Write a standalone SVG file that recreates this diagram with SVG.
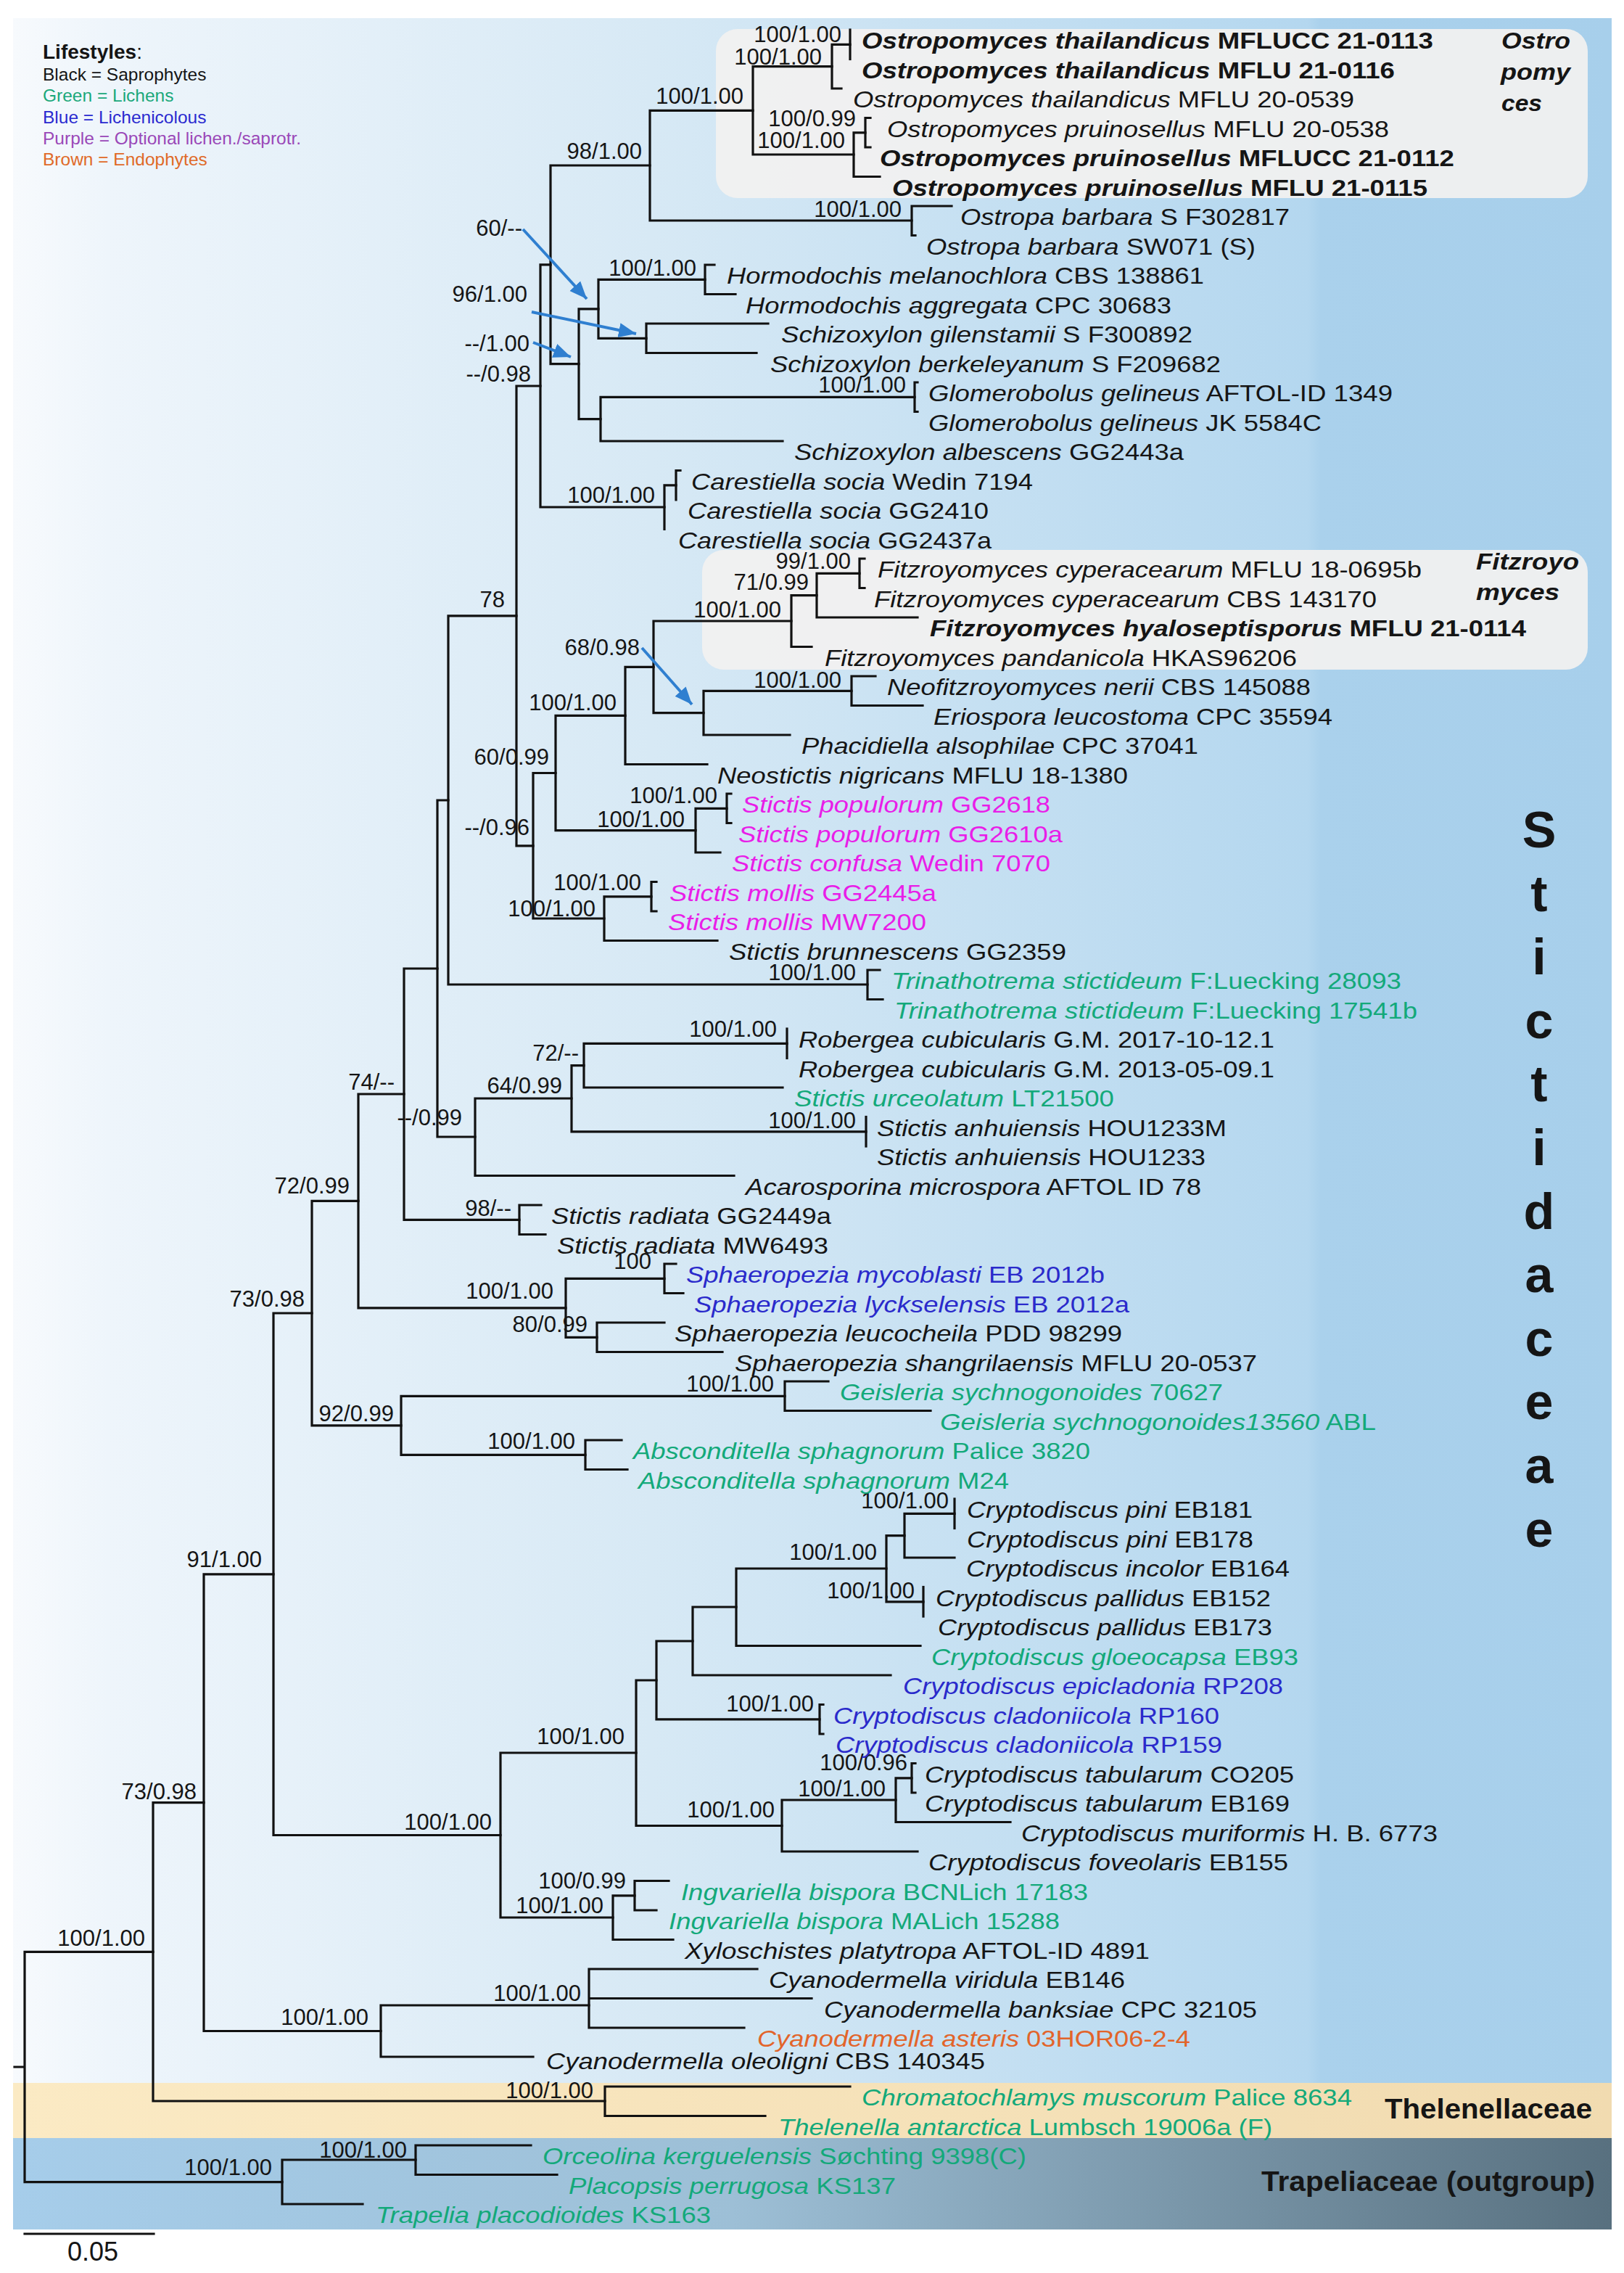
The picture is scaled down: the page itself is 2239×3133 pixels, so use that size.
<svg xmlns="http://www.w3.org/2000/svg" width="2239" height="3133" viewBox="0 0 2239 3133">
<defs>
<linearGradient id="gMain" x1="0" y1="0" x2="1" y2="0">
<stop offset="0" stop-color="#f7fafd"/><stop offset="0.06" stop-color="#eef5fb"/><stop offset="0.4" stop-color="#d7e9f5"/><stop offset="0.81" stop-color="#b4d7ef"/><stop offset="0.818" stop-color="#aad1ec"/><stop offset="1" stop-color="#a7cfeb"/>
</linearGradient>
<linearGradient id="gThel" x1="0" y1="0" x2="1" y2="0">
<stop offset="0" stop-color="#fbeac4"/><stop offset="1" stop-color="#f1dbb0"/>
</linearGradient>
<linearGradient id="gTrap" x1="0" y1="0" x2="1" y2="0">
<stop offset="0" stop-color="#a6cdea"/><stop offset="0.45" stop-color="#9dbfd6"/><stop offset="1" stop-color="#58707f"/>
</linearGradient>
<marker id="ah" markerUnits="userSpaceOnUse" markerWidth="26" markerHeight="22" refX="24" refY="11" orient="auto">
<path d="M0,1 L24,11 L0,21 Z" fill="#2f7fd0"/>
</marker>
<style>
text{font-family:"Liberation Sans",Arial,Helvetica,sans-serif;fill:#151515}
.sp{font-size:32px}
.bs{font-size:31px;text-anchor:end}
.i{font-style:italic}
.b{font-weight:bold}
.g{fill:#13a97a}
.bl{fill:#2a2acb}
.m{fill:#e81ee8}
.o{fill:#e2642a}
.br{stroke:#111;stroke-width:3.2;fill:none;stroke-linecap:square}
.ar{stroke:#2f7fd0;stroke-width:4;fill:none;marker-end:url(#ah)}
.box{fill:#f2f1f0;fill-opacity:0.93}
.big{font-size:70px;font-weight:bold;text-anchor:middle}
.lg{font-size:24.5px}
</style>
</defs>
<rect width="2239" height="3133" fill="#ffffff"/>
<g id="background">
<rect x="18" y="25" width="2204" height="2846" fill="url(#gMain)"/>
<rect x="18" y="2871" width="2204" height="76" fill="url(#gThel)"/>
<rect x="18" y="2947" width="2204" height="126" fill="url(#gTrap)"/>
<rect id="box-ostropomyces" class="box" x="987" y="40" width="1202" height="233" rx="30"/>
<rect id="box-fitzroyomyces" class="box" x="968" y="758" width="1221" height="165" rx="30"/>
</g>
<g id="legend">
<text x="59" y="81" style="font-size:28px"><tspan class="b">Lifestyles</tspan>:</text>
<text class="lg" x="59" y="111">Black = Saprophytes</text>
<text class="lg" x="59" y="140" style="fill:#1aa87a">Green = Lichens</text>
<text class="lg" x="59" y="170" style="fill:#2a2ad0">Blue =  Lichenicolous</text>
<text class="lg" x="59" y="199" style="fill:#9a48b8">Purple = Optional lichen./saprotr.</text>
<text class="lg" x="59" y="228" style="fill:#e06a28">Brown = Endophytes</text>
</g>
<g id="connectors">
<path class="br" d="M20,2849H34 M34,2690.3V3007.6 M34,2690.3H211 M34,3007.6H389"/>
<path class="br" d="M389,2977V3038 M389,2977H573 M389,3038H500"/>
<path class="br" d="M573,2957V2997.5 M573,2957H732 M573,2997.5H768"/>
<path class="br" d="M211,2484.6V2896 M211,2484.6H281 M211,2896H834"/>
<path class="br" d="M834,2876V2916.5 M834,2876H1172 M834,2916.5H1055"/>
<path class="br" d="M281,2169.8V2799.5 M281,2169.8H377 M281,2799.5H525"/>
<path class="br" d="M525,2764V2835 M525,2764H812 M525,2835H735"/>
<path class="br" d="M812,2714V2795 M812,2714H1044 M812,2754.5H1119 M812,2795H1026"/>
<path class="br" d="M377,1810V2529.5 M377,1810H430 M377,2529.5H690"/>
<path class="br" d="M690,2416V2643 M690,2416H877 M690,2643H845"/>
<path class="br" d="M845,2612.8V2673.5 M845,2612.8H875 M845,2673.5H928"/>
<path class="br" d="M875,2592.5V2633 M875,2592.5H922 M875,2633H905"/>
<path class="br" d="M877,2316V2516.5 M877,2316H905 M877,2516.5H1078"/>
<path class="br" d="M1078,2481V2552 M1078,2481H1235 M1078,2552H1265"/>
<path class="br" d="M1235,2450.8V2511.5 M1235,2450.8H1257 M1235,2511.5H1393"/>
<path class="br" d="M1257,2430.5V2471 M1257,2430.5H1262 M1257,2471H1262"/>
<path class="br" d="M905,2262V2369.8 M905,2262H955 M905,2369.8H1130"/>
<path class="br" d="M1130,2349.5V2390 M1130,2349.5H1135 M1130,2390H1135"/>
<path class="br" d="M955,2215V2309 M955,2215H1015 M955,2309H1228"/>
<path class="br" d="M1015,2162V2268.5 M1015,2162H1222 M1015,2268.5H1269"/>
<path class="br" d="M1222,2116.6V2207.8 M1222,2116.6H1247 M1222,2207.8H1273"/>
<path class="br" d="M1247,2086.3V2147 M1247,2086.3H1316 M1247,2147H1316"/>
<path class="br" d="M1316,2066V2106.5"/>
<path class="br" d="M1273,2187.5V2228"/>
<path class="br" d="M430,1655.4V1964.8 M430,1655.4H494 M430,1964.8H553"/>
<path class="br" d="M553,1924.3V2005.3 M553,1924.3H1082 M553,2005.3H807"/>
<path class="br" d="M1082,1904V1944.5 M1082,1904H1142 M1082,1944.5H1283"/>
<path class="br" d="M807,1985V2025.5 M807,1985H857 M807,2025.5H865"/>
<path class="br" d="M494,1508V1802.8 M494,1508H557 M494,1802.8H780"/>
<path class="br" d="M780,1762.3V1843.3 M780,1762.3H916 M780,1843.3H823"/>
<path class="br" d="M916,1742V1782.5 M916,1742H932 M916,1782.5H942"/>
<path class="br" d="M823,1823V1863.5 M823,1823H916 M823,1863.5H996"/>
<path class="br" d="M557,1335V1681.3 M557,1335H603 M557,1681.3H716"/>
<path class="br" d="M716,1661V1701.5 M716,1661H746 M716,1701.5H752"/>
<path class="br" d="M603,1103V1567 M603,1103H618 M603,1567H655"/>
<path class="br" d="M655,1514V1620.5 M655,1514H788 M655,1620.5H1012"/>
<path class="br" d="M788,1468.6V1559.8 M788,1468.6H805 M788,1559.8H1194"/>
<path class="br" d="M805,1438.3V1499 M805,1438.3H1085 M805,1499H1079"/>
<path class="br" d="M1085,1418V1458.5"/>
<path class="br" d="M1194,1539.5V1580"/>
<path class="br" d="M618,848.9V1357 M618,848.9H712 M618,1357H1196"/>
<path class="br" d="M1196,1337V1377.5 M1196,1337H1213 M1196,1377.5H1217"/>
<path class="br" d="M712,532V1165.8 M712,532H745 M712,1165.8H735"/>
<path class="br" d="M735,1065.5V1266 M735,1065.5H766 M735,1266H833"/>
<path class="br" d="M833,1235.8V1296.5 M833,1235.8H898 M833,1296.5H989"/>
<path class="br" d="M898,1215.5V1256 M898,1215.5H905 M898,1256H905"/>
<path class="br" d="M766,986.4V1144.6 M766,986.4H862 M766,1144.6H959"/>
<path class="br" d="M959,1114.3V1175 M959,1114.3H1002 M959,1175H993"/>
<path class="br" d="M1002,1094V1134.5 M1002,1094H1008 M1002,1134.5H1008"/>
<path class="br" d="M862,919.3V1053.5 M862,919.3H901 M862,1053.5H975"/>
<path class="br" d="M901,856V982.6 M901,856H1091 M901,982.6H970"/>
<path class="br" d="M1091,820.6V891.5 M1091,820.6H1126 M1091,891.5H1119"/>
<path class="br" d="M1126,790.3V851 M1126,790.3H1185 M1126,851H1265"/>
<path class="br" d="M1185,770V810.5 M1185,770H1192 M1185,810.5H1192"/>
<path class="br" d="M970,952.3V1013 M970,952.3H1174 M970,1013H1089"/>
<path class="br" d="M1174,932V972.5 M1174,932H1207 M1174,972.5H1272"/>
<path class="br" d="M745,364.8V699 M745,364.8H759 M745,699H916"/>
<path class="br" d="M916,668.8V729.5 M916,668.8H932"/>
<path class="br" d="M932,648.5V689 M932,648.5H938"/>
<path class="br" d="M759,228V501.7 M759,228H896 M759,501.7H798"/>
<path class="br" d="M896,152.3V304 M896,152.3H1038 M896,304H1257"/>
<path class="br" d="M1257,284V324.5 M1257,284H1312 M1257,324.5H1262"/>
<path class="br" d="M1038,91.6V213 M1038,91.6H1147 M1038,213H1177"/>
<path class="br" d="M1147,61.3V122 M1147,61.3H1172 M1147,122H1160"/>
<path class="br" d="M1172,41V81.5"/>
<path class="br" d="M1177,182.8V243.5 M1177,182.8H1193 M1177,243.5H1213"/>
<path class="br" d="M1193,162.5V203 M1193,162.5H1200 M1193,203H1200"/>
<path class="br" d="M798,425.8V577.6 M798,425.8H825 M798,577.6H828"/>
<path class="br" d="M825,385.3V466.3 M825,385.3H972 M825,466.3H891"/>
<path class="br" d="M972,365V405.5 M972,365H985 M972,405.5H1014"/>
<path class="br" d="M891,446V486.5 M891,446H1059 M891,486.5H1043"/>
<path class="br" d="M828,547.3V608 M828,547.3H1261 M828,608H1079"/>
<path class="br" d="M1261,527V567.5 M1261,527H1265 M1261,567.5H1265"/>
<path class="ar" d="M721,316L809,412"/>
<path class="ar" d="M733,430L877,460"/>
<path class="ar" d="M735,472L787,492"/>
<path class="ar" d="M885,893L954,971"/>
<path class="br" d="M34,3079H212"/>
</g>
<g id="supports" class="bs" text-anchor="end">
<text text-anchor="end" x="1025" y="143">100/1.00</text>
<text text-anchor="end" x="1133" y="89">100/1.00</text>
<text text-anchor="end" x="1160" y="58">100/1.00</text>
<text text-anchor="end" x="1165" y="204">100/1.00</text>
<text text-anchor="end" x="1180" y="174">100/0.99</text>
<text text-anchor="end" x="885" y="219">98/1.00</text>
<text text-anchor="end" x="1243" y="299">100/1.00</text>
<text text-anchor="end" x="960" y="380">100/1.00</text>
<text text-anchor="end" x="1249" y="541">100/1.00</text>
<text text-anchor="end" x="903" y="693">100/1.00</text>
<text text-anchor="end" x="732" y="526">--/0.98</text>
<text text-anchor="end" x="720" y="325">60/--</text>
<text text-anchor="end" x="727" y="416">96/1.00</text>
<text text-anchor="end" x="730" y="484">--/1.00</text>
<text text-anchor="end" x="696" y="837">78</text>
<text text-anchor="end" x="882" y="903">68/0.98</text>
<text text-anchor="end" x="850" y="979">100/1.00</text>
<text text-anchor="end" x="757" y="1054">60/0.99</text>
<text text-anchor="end" x="1077" y="851">100/1.00</text>
<text text-anchor="end" x="1115" y="813">71/0.99</text>
<text text-anchor="end" x="1173" y="784">99/1.00</text>
<text text-anchor="end" x="1160" y="948">100/1.00</text>
<text text-anchor="end" x="730" y="1151">--/0.96</text>
<text text-anchor="end" x="944" y="1140">100/1.00</text>
<text text-anchor="end" x="989" y="1107">100/1.00</text>
<text text-anchor="end" x="884" y="1227">100/1.00</text>
<text text-anchor="end" x="821" y="1263">100/1.00</text>
<text text-anchor="end" x="1180" y="1351">100/1.00</text>
<text text-anchor="end" x="798" y="1462">72/--</text>
<text text-anchor="end" x="1071" y="1429">100/1.00</text>
<text text-anchor="end" x="775" y="1507">64/0.99</text>
<text text-anchor="end" x="544" y="1502">74/--</text>
<text text-anchor="end" x="637" y="1551">--/0.99</text>
<text text-anchor="end" x="1180" y="1555">100/1.00</text>
<text text-anchor="end" x="705" y="1676">98/--</text>
<text text-anchor="end" x="482" y="1645">72/0.99</text>
<text text-anchor="end" x="763" y="1790">100/1.00</text>
<text text-anchor="end" x="898" y="1749">100</text>
<text text-anchor="end" x="810" y="1836">80/0.99</text>
<text text-anchor="end" x="420" y="1801">73/0.98</text>
<text text-anchor="end" x="543" y="1959">92/0.99</text>
<text text-anchor="end" x="1067" y="1918">100/1.00</text>
<text text-anchor="end" x="793" y="1997">100/1.00</text>
<text text-anchor="end" x="361" y="2160">91/1.00</text>
<text text-anchor="end" x="1308" y="2079">100/1.00</text>
<text text-anchor="end" x="1209" y="2150">100/1.00</text>
<text text-anchor="end" x="1261" y="2203">100/1.00</text>
<text text-anchor="end" x="1122" y="2359">100/1.00</text>
<text text-anchor="end" x="1251" y="2440">100/0.96</text>
<text text-anchor="end" x="1221" y="2476">100/1.00</text>
<text text-anchor="end" x="1068" y="2505">100/1.00</text>
<text text-anchor="end" x="861" y="2404">100/1.00</text>
<text text-anchor="end" x="678" y="2522">100/1.00</text>
<text text-anchor="end" x="863" y="2603">100/0.99</text>
<text text-anchor="end" x="832" y="2637">100/1.00</text>
<text text-anchor="end" x="801" y="2758">100/1.00</text>
<text text-anchor="end" x="508" y="2791">100/1.00</text>
<text text-anchor="end" x="271" y="2480">73/0.98</text>
<text text-anchor="end" x="200" y="2682">100/1.00</text>
<text text-anchor="end" x="818" y="2892">100/1.00</text>
<text text-anchor="end" x="375" y="2998">100/1.00</text>
<text text-anchor="end" x="561" y="2974">100/1.00</text>
</g>
<g id="taxa" class="sp">
<text id="t1" class="b" x="1188" y="67" textLength="788" lengthAdjust="spacingAndGlyphs"><tspan class="i">Ostropomyces thailandicus</tspan> MFLUCC 21-0113</text>
<text id="t2" class="b" x="1188" y="107.5" textLength="735" lengthAdjust="spacingAndGlyphs"><tspan class="i">Ostropomyces thailandicus</tspan> MFLU 21-0116</text>
<text id="t3" x="1176" y="148" textLength="691" lengthAdjust="spacingAndGlyphs"><tspan class="i">Ostropomyces thailandicus</tspan> MFLU 20-0539</text>
<text id="t4" x="1223" y="188.5" textLength="692" lengthAdjust="spacingAndGlyphs"><tspan class="i">Ostropomyces pruinosellus</tspan> MFLU 20-0538</text>
<text id="t5" class="b" x="1213" y="229" textLength="792" lengthAdjust="spacingAndGlyphs"><tspan class="i">Ostropomyces pruinosellus</tspan> MFLUCC 21-0112</text>
<text id="t6" class="b" x="1230" y="269.5" textLength="738" lengthAdjust="spacingAndGlyphs"><tspan class="i">Ostropomyces pruinosellus</tspan> MFLU 21-0115</text>
<text id="t7" x="1324" y="310" textLength="454" lengthAdjust="spacingAndGlyphs"><tspan class="i">Ostropa barbara</tspan> S F302817</text>
<text id="t8" x="1277" y="350.5" textLength="454" lengthAdjust="spacingAndGlyphs"><tspan class="i">Ostropa barbara</tspan> SW071 (S)</text>
<text id="t9" x="1002" y="391" textLength="658" lengthAdjust="spacingAndGlyphs"><tspan class="i">Hormodochis melanochlora</tspan> CBS 138861</text>
<text id="t10" x="1028" y="431.5" textLength="587" lengthAdjust="spacingAndGlyphs"><tspan class="i">Hormodochis aggregata</tspan> CPC 30683</text>
<text id="t11" x="1077" y="472" textLength="567" lengthAdjust="spacingAndGlyphs"><tspan class="i">Schizoxylon gilenstamii</tspan> S F300892</text>
<text id="t12" x="1062" y="512.5" textLength="621" lengthAdjust="spacingAndGlyphs"><tspan class="i">Schizoxylon berkeleyanum</tspan> S F209682</text>
<text id="t13" x="1280" y="553" textLength="640" lengthAdjust="spacingAndGlyphs"><tspan class="i">Glomerobolus gelineus</tspan> AFTOL-ID 1349</text>
<text id="t14" x="1280" y="593.5" textLength="542" lengthAdjust="spacingAndGlyphs"><tspan class="i">Glomerobolus gelineus</tspan> JK 5584C</text>
<text id="t15" x="1095" y="634" textLength="537" lengthAdjust="spacingAndGlyphs"><tspan class="i">Schizoxylon albescens</tspan> GG2443a</text>
<text id="t16" x="953" y="674.5" textLength="471" lengthAdjust="spacingAndGlyphs"><tspan class="i">Carestiella socia</tspan> Wedin 7194</text>
<text id="t17" x="948" y="715" textLength="415" lengthAdjust="spacingAndGlyphs"><tspan class="i">Carestiella socia</tspan> GG2410</text>
<text id="t18" x="935" y="755.5" textLength="432" lengthAdjust="spacingAndGlyphs"><tspan class="i">Carestiella socia</tspan> GG2437a</text>
<text id="t19" x="1210" y="796" textLength="750" lengthAdjust="spacingAndGlyphs"><tspan class="i">Fitzroyomyces cyperacearum</tspan> MFLU 18-0695b</text>
<text id="t20" x="1205" y="836.5" textLength="693" lengthAdjust="spacingAndGlyphs"><tspan class="i">Fitzroyomyces cyperacearum</tspan> CBS 143170</text>
<text id="t21" class="b" x="1282" y="877" textLength="822" lengthAdjust="spacingAndGlyphs"><tspan class="i">Fitzroyomyces hyaloseptisporus</tspan> MFLU 21-0114</text>
<text id="t22" x="1137" y="917.5" textLength="651" lengthAdjust="spacingAndGlyphs"><tspan class="i">Fitzroyomyces pandanicola</tspan> HKAS96206</text>
<text id="t23" x="1223" y="958" textLength="584" lengthAdjust="spacingAndGlyphs"><tspan class="i">Neofitzroyomyces nerii</tspan> CBS 145088</text>
<text id="t24" x="1287" y="998.5" textLength="550" lengthAdjust="spacingAndGlyphs"><tspan class="i">Eriospora leucostoma</tspan> CPC 35594</text>
<text id="t25" x="1105" y="1039" textLength="547" lengthAdjust="spacingAndGlyphs"><tspan class="i">Phacidiella alsophilae</tspan> CPC 37041</text>
<text id="t26" x="989" y="1079.5" textLength="566" lengthAdjust="spacingAndGlyphs"><tspan class="i">Neostictis nigricans</tspan> MFLU 18-1380</text>
<text id="t27" class="m" x="1023" y="1120" textLength="425" lengthAdjust="spacingAndGlyphs"><tspan class="i">Stictis populorum</tspan> GG2618</text>
<text id="t28" class="m" x="1018" y="1160.5" textLength="447" lengthAdjust="spacingAndGlyphs"><tspan class="i">Stictis populorum</tspan> GG2610a</text>
<text id="t29" class="m" x="1009" y="1201" textLength="439" lengthAdjust="spacingAndGlyphs"><tspan class="i">Stictis confusa</tspan> Wedin 7070</text>
<text id="t30" class="m" x="923" y="1241.5" textLength="368" lengthAdjust="spacingAndGlyphs"><tspan class="i">Stictis mollis</tspan> GG2445a</text>
<text id="t31" class="m" x="921" y="1282" textLength="356" lengthAdjust="spacingAndGlyphs"><tspan class="i">Stictis mollis</tspan> MW7200</text>
<text id="t32" x="1005" y="1322.5" textLength="465" lengthAdjust="spacingAndGlyphs"><tspan class="i">Stictis brunnescens</tspan> GG2359</text>
<text id="t33" class="g" x="1229" y="1363" textLength="703" lengthAdjust="spacingAndGlyphs"><tspan class="i">Trinathotrema stictideum</tspan> F:Luecking 28093</text>
<text id="t34" class="g" x="1233" y="1403.5" textLength="721" lengthAdjust="spacingAndGlyphs"><tspan class="i">Trinathotrema stictideum</tspan> F:Luecking 17541b</text>
<text id="t35" x="1101" y="1444" textLength="656" lengthAdjust="spacingAndGlyphs"><tspan class="i">Robergea cubicularis</tspan> G.M. 2017-10-12.1</text>
<text id="t36" x="1101" y="1484.5" textLength="656" lengthAdjust="spacingAndGlyphs"><tspan class="i">Robergea cubicularis</tspan> G.M. 2013-05-09.1</text>
<text id="t37" class="g" x="1095" y="1525" textLength="441" lengthAdjust="spacingAndGlyphs"><tspan class="i">Stictis urceolatum</tspan> LT21500</text>
<text id="t38" x="1209" y="1565.5" textLength="482" lengthAdjust="spacingAndGlyphs"><tspan class="i">Stictis anhuiensis</tspan> HOU1233M</text>
<text id="t39" x="1209" y="1606" textLength="453" lengthAdjust="spacingAndGlyphs"><tspan class="i">Stictis anhuiensis</tspan> HOU1233</text>
<text id="t40" x="1028" y="1646.5" textLength="628" lengthAdjust="spacingAndGlyphs"><tspan class="i">Acarosporina microspora</tspan> AFTOL ID 78</text>
<text id="t41" x="760" y="1687" textLength="386" lengthAdjust="spacingAndGlyphs"><tspan class="i">Stictis radiata</tspan> GG2449a</text>
<text id="t42" x="768" y="1727.5" textLength="374" lengthAdjust="spacingAndGlyphs"><tspan class="i">Stictis radiata</tspan> MW6493</text>
<text id="t43" class="bl" x="946" y="1768" textLength="577" lengthAdjust="spacingAndGlyphs"><tspan class="i">Sphaeropezia mycoblasti</tspan> EB 2012b</text>
<text id="t44" class="bl" x="957" y="1808.5" textLength="600" lengthAdjust="spacingAndGlyphs"><tspan class="i">Sphaeropezia lyckselensis</tspan> EB 2012a</text>
<text id="t45" x="930" y="1849" textLength="617" lengthAdjust="spacingAndGlyphs"><tspan class="i">Sphaeropezia leucocheila</tspan> PDD 98299</text>
<text id="t46" x="1013" y="1889.5" textLength="720" lengthAdjust="spacingAndGlyphs"><tspan class="i">Sphaeropezia shangrilaensis</tspan> MFLU 20-0537</text>
<text id="t47" class="g" x="1158" y="1930" textLength="528" lengthAdjust="spacingAndGlyphs"><tspan class="i">Geisleria sychnogonoides</tspan> 70627</text>
<text id="t48" class="g" x="1296" y="1970.5" textLength="601" lengthAdjust="spacingAndGlyphs"><tspan class="i">Geisleria sychnogonoides13560</tspan> ABL</text>
<text id="t49" class="g" x="873" y="2011" textLength="630" lengthAdjust="spacingAndGlyphs"><tspan class="i">Absconditella sphagnorum</tspan> Palice 3820</text>
<text id="t50" class="g" x="880" y="2051.5" textLength="511" lengthAdjust="spacingAndGlyphs"><tspan class="i">Absconditella sphagnorum</tspan> M24</text>
<text id="t51" x="1333" y="2092" textLength="394" lengthAdjust="spacingAndGlyphs"><tspan class="i">Cryptodiscus pini</tspan> EB181</text>
<text id="t52" x="1333" y="2132.5" textLength="395" lengthAdjust="spacingAndGlyphs"><tspan class="i">Cryptodiscus pini</tspan> EB178</text>
<text id="t53" x="1332" y="2173" textLength="446" lengthAdjust="spacingAndGlyphs"><tspan class="i">Cryptodiscus incolor</tspan> EB164</text>
<text id="t54" x="1290" y="2213.5" textLength="462" lengthAdjust="spacingAndGlyphs"><tspan class="i">Cryptodiscus pallidus</tspan> EB152</text>
<text id="t55" x="1293" y="2254" textLength="461" lengthAdjust="spacingAndGlyphs"><tspan class="i">Cryptodiscus pallidus</tspan> EB173</text>
<text id="t56" class="g" x="1284" y="2294.5" textLength="506" lengthAdjust="spacingAndGlyphs"><tspan class="i">Cryptodiscus gloeocapsa</tspan> EB93</text>
<text id="t57" class="bl" x="1245" y="2335" textLength="524" lengthAdjust="spacingAndGlyphs"><tspan class="i">Cryptodiscus epicladonia</tspan> RP208</text>
<text id="t58" class="bl" x="1149" y="2375.5" textLength="532" lengthAdjust="spacingAndGlyphs"><tspan class="i">Cryptodiscus cladoniicola</tspan> RP160</text>
<text id="t59" class="bl" x="1152" y="2416" textLength="533" lengthAdjust="spacingAndGlyphs"><tspan class="i">Cryptodiscus cladoniicola</tspan> RP159</text>
<text id="t60" x="1275" y="2456.5" textLength="509" lengthAdjust="spacingAndGlyphs"><tspan class="i">Cryptodiscus tabularum</tspan> CO205</text>
<text id="t61" x="1275" y="2497" textLength="503" lengthAdjust="spacingAndGlyphs"><tspan class="i">Cryptodiscus tabularum</tspan> EB169</text>
<text id="t62" x="1408" y="2537.5" textLength="574" lengthAdjust="spacingAndGlyphs"><tspan class="i">Cryptodiscus muriformis</tspan> H. B. 6773</text>
<text id="t63" x="1280" y="2578" textLength="496" lengthAdjust="spacingAndGlyphs"><tspan class="i">Cryptodiscus foveolaris</tspan> EB155</text>
<text id="t64" class="g" x="939" y="2618.5" textLength="561" lengthAdjust="spacingAndGlyphs"><tspan class="i">Ingvariella bispora</tspan> BCNLich 17183</text>
<text id="t65" class="g" x="922" y="2659" textLength="539" lengthAdjust="spacingAndGlyphs"><tspan class="i">Ingvariella bispora</tspan> MALich 15288</text>
<text id="t66" x="944" y="2699.5" textLength="641" lengthAdjust="spacingAndGlyphs"><tspan class="i">Xyloschistes platytropa</tspan> AFTOL-ID 4891</text>
<text id="t67" x="1060" y="2740" textLength="491" lengthAdjust="spacingAndGlyphs"><tspan class="i">Cyanodermella viridula</tspan> EB146</text>
<text id="t68" x="1136" y="2780.5" textLength="597" lengthAdjust="spacingAndGlyphs"><tspan class="i">Cyanodermella banksiae</tspan> CPC 32105</text>
<text id="t69" class="o" x="1044" y="2821" textLength="597" lengthAdjust="spacingAndGlyphs"><tspan class="i">Cyanodermella asteris</tspan> 03HOR06-2-4</text>
<text id="t70" x="753" y="2852" textLength="605" lengthAdjust="spacingAndGlyphs"><tspan class="i">Cyanodermella oleoligni</tspan> CBS 140345</text>
<text id="t71" class="g" x="1188" y="2902" textLength="676" lengthAdjust="spacingAndGlyphs"><tspan class="i">Chromatochlamys muscorum</tspan> Palice 8634</text>
<text id="t72" class="g" x="1073" y="2942.5" textLength="681" lengthAdjust="spacingAndGlyphs"><tspan class="i">Thelenella antarctica</tspan> Lumbsch 19006a (F)</text>
<text id="t73" class="g" x="748" y="2983" textLength="667" lengthAdjust="spacingAndGlyphs"><tspan class="i">Orceolina kerguelensis</tspan> Søchting 9398(C)</text>
<text id="t74" class="g" x="784" y="3023.5" textLength="451" lengthAdjust="spacingAndGlyphs"><tspan class="i">Placopsis perrugosa</tspan> KS137</text>
<text id="t75" class="g" x="518" y="3064" textLength="462" lengthAdjust="spacingAndGlyphs"><tspan class="i">Trapelia placodioides</tspan> KS163</text>
</g>
<g id="clade-labels">
<g id="ostropomyces-label" class="b i" style="font-size:32px">
<text x="2070" y="67" textLength="95" lengthAdjust="spacingAndGlyphs">Ostro</text>
<text x="2069" y="110" textLength="96" lengthAdjust="spacingAndGlyphs">pomy</text>
<text x="2070" y="153" textLength="56" lengthAdjust="spacingAndGlyphs">ces</text>
</g>
<g id="fitzroyomyces-label" class="b i" style="font-size:32px">
<text x="2035" y="785" textLength="142" lengthAdjust="spacingAndGlyphs">Fitzroyo</text>
<text x="2035" y="827" textLength="115" lengthAdjust="spacingAndGlyphs">myces</text>
</g>
<g id="stictidaceae-label" class="big" text-anchor="middle">
<text x="2122" y="1168">S</text>
<text x="2122" y="1255.6">t</text>
<text x="2122" y="1343.2">i</text>
<text x="2122" y="1430.8">c</text>
<text x="2122" y="1518.4">t</text>
<text x="2122" y="1606">i</text>
<text x="2122" y="1693.6">d</text>
<text x="2122" y="1781.2">a</text>
<text x="2122" y="1868.8">c</text>
<text x="2122" y="1956.4">e</text>
<text x="2122" y="2044">a</text>
<text x="2122" y="2131.6">e</text>
</g>
<text id="thelenellaceae-label" class="b" x="1909" y="2920" style="font-size:39px" textLength="286" lengthAdjust="spacingAndGlyphs">Thelenellaceae</text>
<text id="trapeliaceae-label" class="b" x="1739" y="3020" style="font-size:39px" textLength="460" lengthAdjust="spacingAndGlyphs">Trapeliaceae (outgroup)</text>
</g>
<g id="scale">
<text x="128" y="3116" text-anchor="middle" style="font-size:36px">0.05</text>
</g>
</svg>
